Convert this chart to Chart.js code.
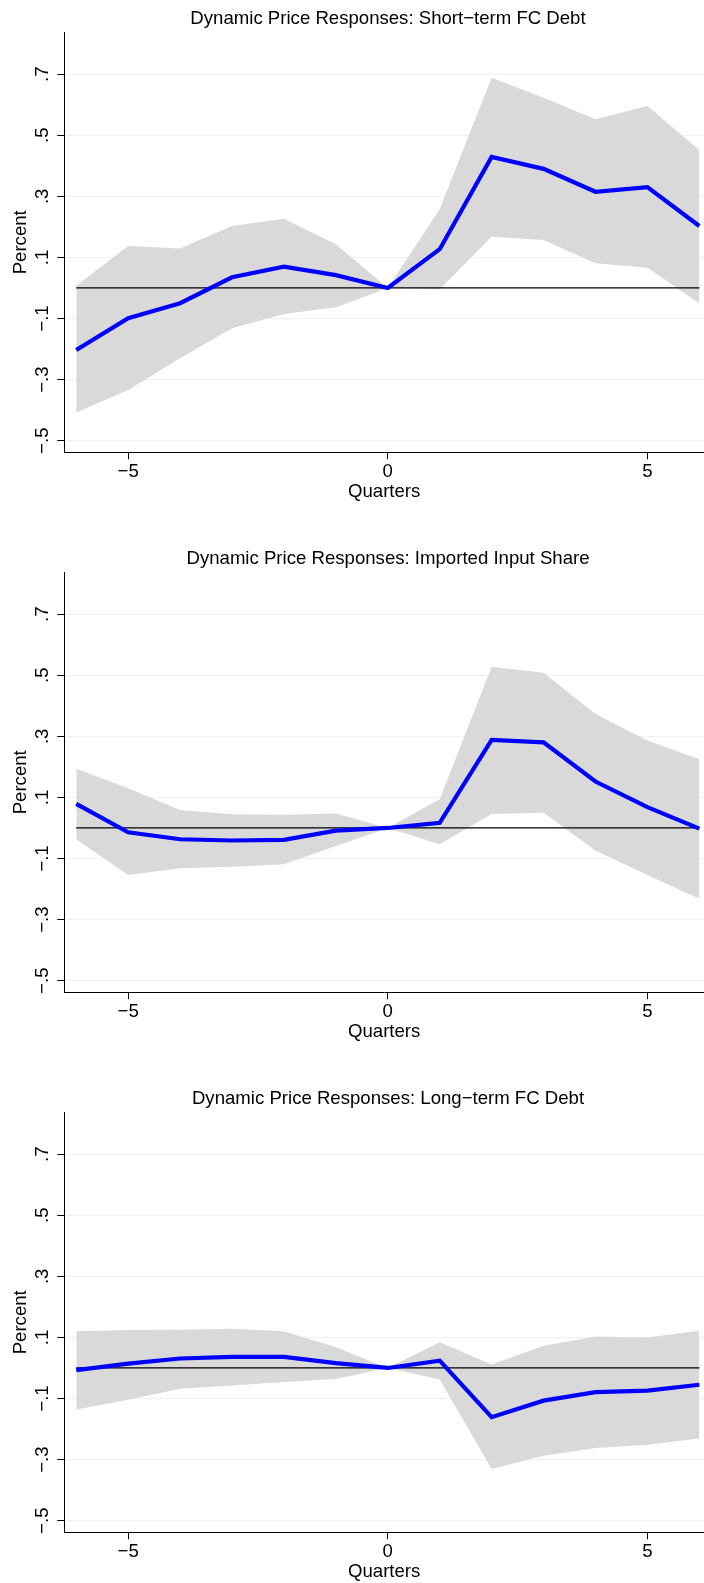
<!DOCTYPE html>
<html>
<head>
<meta charset="utf-8">
<script src="https://cdn.jsdelivr.net/npm/chart.js@4.4.1/dist/chart.umd.min.js"></script>
<style>
  html, body { margin: 0; padding: 0; background: #fff; }
  #wrap { position: relative; width: 704px; height: 1583px; overflow: hidden; }
  .panel { position: absolute; left: 0; width: 704px; height: 541px; }
</style>
</head>
<body>
<div id="wrap">
  <div class="panel" style="top:0px"><canvas id="c0"></canvas></div>
  <div class="panel" style="top:540px"><canvas id="c1"></canvas></div>
  <div class="panel" style="top:1080.4px"><canvas id="c2"></canvas></div>
</div>
<script>
const quarters = [-6, -5, -4, -3, -2, -1, 0, 1, 2, 3, 4, 5, 6];
const xTicks = [-5, 0, 5];
const xTickLabels = ["\u22125", "0", "5"];
const yTicks = [-0.5, -0.3, -0.1, 0.1, 0.3, 0.5, 0.7];
const yTickLabels = ["\u2212.5", "\u2212.3", "\u2212.1", ".1", ".3", ".5", ".7"];
const refLine = [0, 0, 0, 0, 0, 0, 0, 0, 0, 0, 0, 0, 0];

const titles = [
  "Dynamic Price Responses: Short\u2212term FC Debt",
  "Dynamic Price Responses: Imported Input Share",
  "Dynamic Price Responses: Long\u2212term FC Debt"
];

// short-term FC debt
const shortEst = [-0.203, -0.099, -0.050, 0.035, 0.070, 0.042, 0, 0.127, 0.429, 0.390, 0.315, 0.330, 0.203];
const shortHi  = [0.007, 0.137, 0.129, 0.203, 0.227, 0.143, 0, 0.258, 0.688, 0.623, 0.552, 0.596, 0.452];
const shortLo  = [-0.408, -0.334, -0.230, -0.132, -0.085, -0.063, 0, -0.004, 0.168, 0.157, 0.081, 0.066, -0.050];

// imported input share
const importEst = [0.079, -0.014, -0.037, -0.041, -0.039, -0.009, 0, 0.017, 0.288, 0.280, 0.152, 0.068, -0.002];
const importHi  = [0.194, 0.130, 0.059, 0.045, 0.043, 0.047, 0, 0.094, 0.528, 0.508, 0.373, 0.286, 0.225];
const importLo  = [-0.037, -0.154, -0.132, -0.127, -0.119, -0.059, 0, -0.053, 0.046, 0.050, -0.074, -0.154, -0.232];

// long-term FC debt
const longEst = [-0.007, 0.014, 0.031, 0.036, 0.036, 0.016, 0, 0.024, -0.161, -0.107, -0.079, -0.074, -0.055];
const longHi  = [0.120, 0.124, 0.125, 0.128, 0.120, 0.068, 0, 0.084, 0.011, 0.073, 0.103, 0.100, 0.122];
const longLo  = [-0.136, -0.104, -0.068, -0.057, -0.046, -0.036, 0, -0.038, -0.331, -0.287, -0.262, -0.251, -0.231];

const FAMILY = "'Liberation Sans', Arial, Helvetica, sans-serif";
const FONT_PX = 18.6;
const font = { family: FAMILY, size: FONT_PX };

function pts(vals) {
  return quarters.map((q, i) => ({ x: q, y: vals[i] }));
}

// title and rotated y tick labels, Stata style
const panelText = {
  id: "panelText",
  afterDraw(chart, args, opts) {
    const ctx = chart.ctx;
    const y = chart.scales.y;
    ctx.save();
    ctx.fillStyle = "#000";
    ctx.font = FONT_PX + "px " + FAMILY;
    ctx.textAlign = "center";
    ctx.textBaseline = "alphabetic";
    ctx.fillText(opts.title, 388, 23.5);
    yTicks.forEach((v, i) => {
      ctx.save();
      ctx.translate(48.3, y.getPixelForValue(v));
      ctx.rotate(-Math.PI / 2);
      ctx.fillText(yTickLabels[i], 0, 0);
      ctx.restore();
    });
    ctx.restore();
  }
};

function makePanel(id, title, est, hi, lo) {
  new Chart(document.getElementById(id), {
    type: "line",
    data: {
      datasets: [
        { data: pts(est), borderColor: "#0000ff", borderWidth: 4.2, pointRadius: 0, fill: false },
        { data: pts(refLine), borderColor: "#000", borderWidth: 1.2, pointRadius: 0, fill: false },
        { data: pts(hi), borderColor: "rgba(0,0,0,0)", borderWidth: 0, pointRadius: 0,
          backgroundColor: "#d9d9d9", fill: "+1" },
        { data: pts(lo), borderColor: "rgba(0,0,0,0)", borderWidth: 0, pointRadius: 0, fill: false }
      ]
    },
    options: {
      responsive: true,
      maintainAspectRatio: false,
      animation: false,
      layout: { padding: { top: 32.3, left: 0, right: 0, bottom: 0 } },
      elements: { line: { tension: 0 } },
      plugins: {
        legend: { display: false },
        tooltip: { enabled: false },
        panelText: { title: title }
      },
      scales: {
        x: {
          type: "linear",
          min: -6.23,
          max: 6.09,
          afterBuildTicks: (s) => { s.ticks = xTicks.map((v) => ({ value: v })); },
          afterFit: (s) => { s.height = 88.7; },
          grid: { drawOnChartArea: false, drawTicks: true, tickLength: 7, tickColor: "#000", tickWidth: 1 },
          border: { display: true, color: "#000", width: 1 },
          ticks: {
            padding: 1,
            color: "#000",
            font: font,
            maxRotation: 0,
            callback: (v) => xTickLabels[xTicks.indexOf(v)]
          },
          title: { display: true, text: "Quarters", color: "#000", font: font, padding: { top: 0, bottom: 37.9 } }
        },
        y: {
          min: -0.538,
          max: 0.837,
          afterBuildTicks: (s) => { s.ticks = yTicks.map((v) => ({ value: v })); },
          afterFit: (s) => { s.width = 64.3; },
          grid: { color: "#eaf2f3", lineWidth: 1, drawTicks: true, tickLength: 7, tickColor: "#000", tickWidth: 1 },
          border: { display: true, color: "#000", width: 1 },
          ticks: { display: false },
          title: { display: true, text: "Percent", color: "#000", font: font, padding: { top: 9.4, bottom: 0 } }
        }
      }
    },
    plugins: [panelText]
  });
}

makePanel("c0", titles[0], shortEst, shortHi, shortLo);
makePanel("c1", titles[1], importEst, importHi, importLo);
makePanel("c2", titles[2], longEst, longHi, longLo);
</script>
</body>
</html>
